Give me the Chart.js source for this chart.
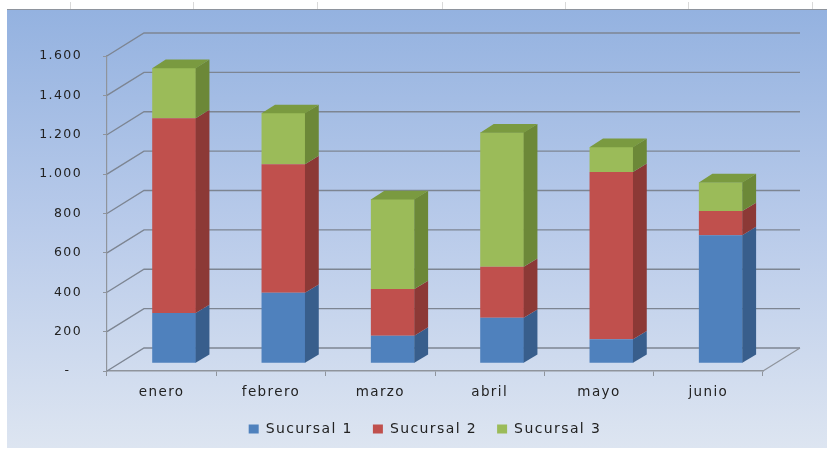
<!DOCTYPE html>
<html>
<head>
<meta charset="utf-8">
<script src="https://cdn.jsdelivr.net/npm/chart.js@4.4.1/dist/chart.umd.min.js"></script>
<style>
  html, body { margin: 0; padding: 0; background: #fff; }
  #wrap { position: relative; width: 827px; height: 449px; overflow: hidden; }
  #panel {
    position: absolute; left: 7px; top: 9px; right: 0; bottom: 1px;
    background: linear-gradient(to bottom, #94b2e0 0%, #b9cbea 50%, #dde5f1 100%);
    border-top: 1px solid #8e949d;
  }
  .col { position: absolute; top: 2px; width: 1px; height: 7px; background: #d9d9d9; }
  #c { position: absolute; left: 0; top: 0; }
</style>
</head>
<body>
<div id="wrap">
  <div class="col" style="left:70px"></div>
  <div class="col" style="left:193px"></div>
  <div class="col" style="left:317px"></div>
  <div class="col" style="left:442px"></div>
  <div class="col" style="left:565px"></div>
  <div class="col" style="left:688px"></div>
  <div class="col" style="left:812px"></div>
  <div id="panel"></div>
  <canvas id="c" width="827" height="449"></canvas>
</div>
<script>
// Monthly figures per branch
const meses = ['enero', 'febrero', 'marzo', 'abril', 'mayo', 'junio'];
const sucursal1 = [255, 358, 140, 231, 122, 651];
const sucursal2 = [990, 653, 237, 259, 850, 122];
const sucursal3 = [255, 260, 457, 683, 127, 147];
const valorMin = 0;
const valorMax = 1600;
const valorPaso = 200;

// Oblique projection offsets for the box walls and the columns
const WALL = { dx: 37, dy: 23 };      // depth of the floor / back wall
const FRONT = { dx: 12.4, dy: 7.7 };  // front face of columns behind the front plane
const DEPTH = { dx: 13.5, dy: 8.4 };  // depth of each column

const FONT = 'DejaVu Sans';
const TEXT = '#222222';
const AXIS = '#8f949c';
const GRID = '#7d8592';
const LEGEND_CENTER = 425;

function formatMiles(v) {
  if (v === 0) return '-\u2002\u2009';
  return String(v).replace(/\B(?=(\d{3})+(?!\d))/g, '.');
}

const box3d = {
  id: 'box3d',
  beforeUpdate(chart) { chart.ctx.letterSpacing = '1.4px'; },
  afterLayout(chart) {
    // centre the legend row under the plot box
    const lg = chart.legend;
    if (!lg) return;
    const w = lg.right - lg.left;
    lg.left = LEGEND_CENTER - w / 2;
    lg.right = LEGEND_CENTER + w / 2;
  },
  beforeDraw(chart) { chart.ctx.letterSpacing = '1.4px'; },
  beforeDatasetsDraw(chart) {
    const { ctx, chartArea: a, scales: { y } } = chart;
    ctx.save();
    // back wall gridlines and their side-wall diagonals
    ctx.lineWidth = 1.4;
    ctx.strokeStyle = GRID;
    ctx.beginPath();
    y.ticks.forEach(t => {
      const py = y.getPixelForValue(t.value);
      ctx.moveTo(a.left, py);
      ctx.lineTo(a.left + WALL.dx, py - WALL.dy);
      ctx.lineTo(a.right + WALL.dx, py - WALL.dy);
    });
    ctx.stroke();
    // right edge of the floor
    ctx.strokeStyle = AXIS;
    ctx.lineWidth = 1.2;
    ctx.beginPath();
    ctx.moveTo(a.right, a.bottom);
    ctx.lineTo(a.right + WALL.dx, a.bottom - WALL.dy);
    ctx.stroke();
    ctx.restore();
    // columns stand a little behind the front plane
    ctx.save();
    ctx.translate(FRONT.dx, -FRONT.dy);
  },
  afterDatasetsDraw(chart) {
    const ctx = chart.ctx;
    const tops = [];
    chart.data.datasets.forEach((ds, di) => {
      const meta = chart.getDatasetMeta(di);
      if (meta.hidden) return;
      meta.data.forEach((bar, i) => {
        const { x, y, base, width } = bar.getProps(['x', 'y', 'base', 'width'], true);
        const l = x - width / 2, r = x + width / 2;
        const t = Math.min(y, base), b = Math.max(y, base);
        if (b - t < 0.1) return;
        ctx.fillStyle = ds.sideColor;
        ctx.beginPath();
        ctx.moveTo(r - 0.3, b);
        ctx.lineTo(r - 0.3, t);
        ctx.lineTo(r + DEPTH.dx, t - DEPTH.dy);
        ctx.lineTo(r + DEPTH.dx, b - DEPTH.dy);
        ctx.closePath();
        ctx.fill();
        if (!tops[i] || t < tops[i].t) tops[i] = { l, r, t, color: ds.topColor };
      });
    });
    tops.forEach(s => {
      if (!s) return;
      ctx.fillStyle = s.color;
      ctx.beginPath();
      ctx.moveTo(s.l, s.t + 0.3);
      ctx.lineTo(s.l + DEPTH.dx, s.t - DEPTH.dy);
      ctx.lineTo(s.r + DEPTH.dx, s.t - DEPTH.dy);
      ctx.lineTo(s.r, s.t + 0.3);
      ctx.closePath();
      ctx.fill();
    });
    ctx.restore();
  }
};

const BOTTOM_PAD = 3;
const PLOT_BOTTOM = 371;

new Chart(document.getElementById('c'), {
  type: 'bar',
  data: {
    labels: meses,
    datasets: [
      { label: 'Sucursal 1', data: sucursal1, backgroundColor: '#4f81bd', sideColor: '#385e8c', topColor: '#4673a8' },
      { label: 'Sucursal 2', data: sucursal2, backgroundColor: '#c0504d', sideColor: '#8c3936', topColor: '#a5443f' },
      { label: 'Sucursal 3', data: sucursal3, backgroundColor: '#9bbb59', sideColor: '#6c8838', topColor: '#7a9a40' }
    ]
  },
  options: {
    responsive: false,
    devicePixelRatio: 1,
    animation: false,
    datasets: { bar: { categoryPercentage: 1, barPercentage: 0.4, borderWidth: 0, clip: false } },
    layout: { padding: { left: 0, right: 64, top: 56, bottom: BOTTOM_PAD } },
    plugins: {
      tooltip: { enabled: false },
      legend: {
        position: 'bottom',
        labels: {
          boxWidth: 10, boxHeight: 9, padding: 20, color: TEXT,
          font: { family: FONT, size: 14 }
        }
      }
    },
    scales: {
      x: {
        stacked: true,
        afterFit(s) {
          const lg = s.chart.legend ? s.chart.legend.height : 0;
          s.height = s.chart.height - BOTTOM_PAD - lg - PLOT_BOTTOM;
        },
        grid: { display: true, drawOnChartArea: false, drawTicks: true, tickLength: 5, color: AXIS, offset: true },
        border: { display: true, color: AXIS, width: 1.5 },
        ticks: { padding: 8, color: TEXT, maxRotation: 0, font: { family: FONT, size: 13.5 } }
      },
      y: {
        stacked: true,
        min: valorMin, max: valorMax,
        afterFit(s) { s.width = 107; },
        grid: { display: true, drawOnChartArea: false, drawTicks: true, tickLength: 4, color: AXIS },
        border: { display: true, color: AXIS, width: 1.2 },
        ticks: {
          stepSize: valorPaso, padding: 21, color: TEXT,
          font: { family: FONT, size: 12.5 },
          callback: v => formatMiles(v)
        }
      }
    }
  },
  plugins: [box3d]
});
</script>
</body>
</html>
